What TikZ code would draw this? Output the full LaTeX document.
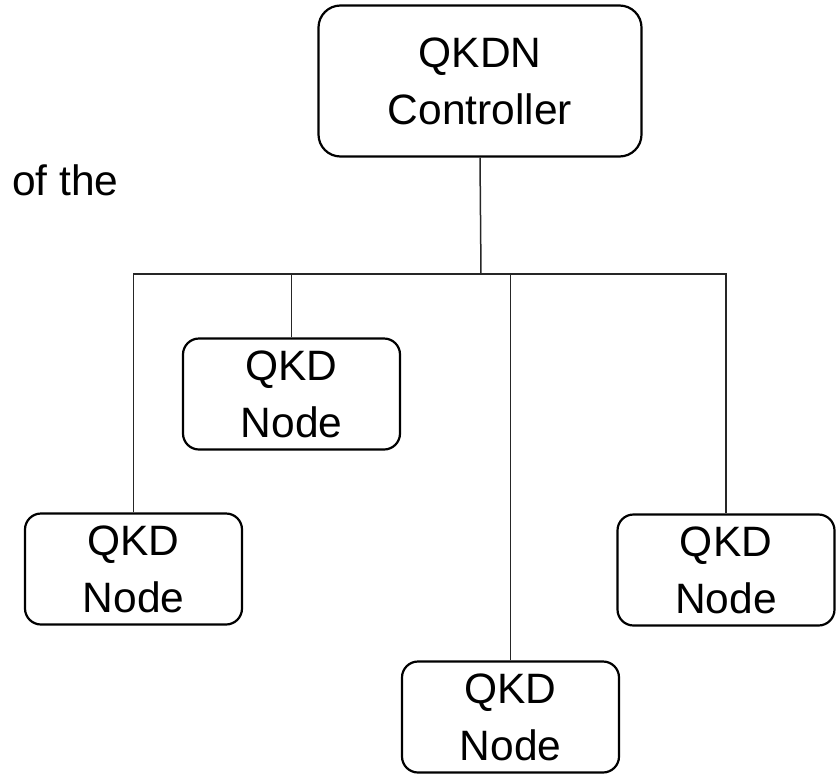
\documentclass[tikz,border=0pt]{standalone}
\usepackage{fontspec}
\setmainfont{Liberation Sans}
\begin{document}
\begin{tikzpicture}[x=1pt,y=-1pt,
  box/.style={draw, line width=2.2pt, rounded corners=16pt, align=center,
    font=\fontsize{42.5}{57}\selectfont, inner sep=0pt},
  nodebox/.style={box, minimum width=217pt, minimum height=111pt},
  link/.style={line width=1.5pt, draw=black!85}]
  \useasboundingbox (0,0) rectangle (838,774);

  % controller on top
  \node[box, rounded corners=22pt, minimum width=323pt, minimum height=151pt]
    (ctrl) at (480,81) {QKDN\\Controller};

  % managed nodes
  \node[nodebox] (n1) at (291.5,394) {QKD\\Node};
  \node[nodebox] (n2) at (133.5,569) {QKD\\Node};
  \node[nodebox] (n3) at (510.5,717) {QKD\\Node};
  \node[nodebox] (n4) at (726,570) {QKD\\Node};

  % stray caption fragment
  \node[anchor=base west, inner sep=0pt, font=\fontsize{42.5}{50}\selectfont]
    (frag) at (12,195) {of the};

  % bus from the controller to every node
  \coordinate (bus) at (481,274);
  \draw[link] (ctrl.south) -- (bus);
  \draw[link] (n2.north) |- (bus) -| (n4.north);
  \draw[link] (n1.north) -- (n1.north |- bus);
  \draw[link] (n3.north) -- (n3.north |- bus);
\end{tikzpicture}
\end{document}
